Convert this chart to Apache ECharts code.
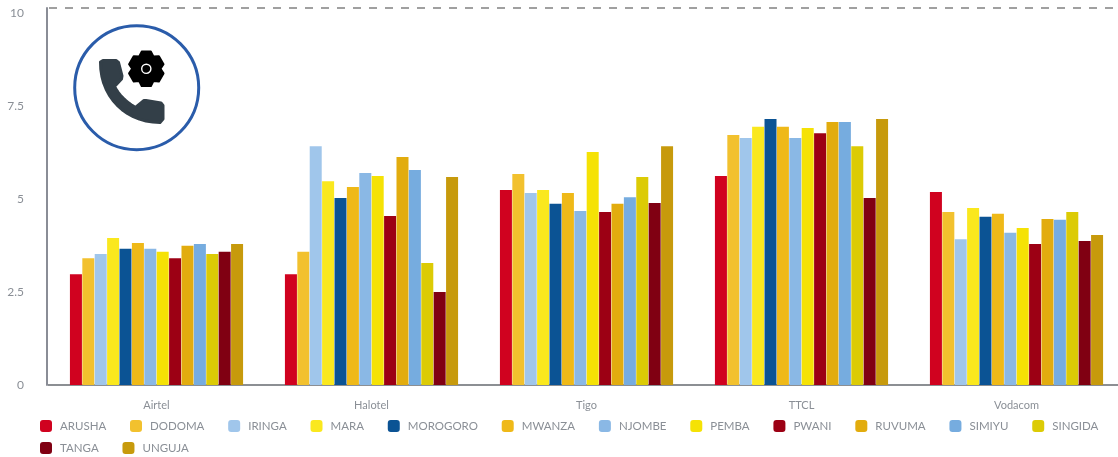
<!DOCTYPE html>
<html><head><meta charset="utf-8">
<style>html,body{margin:0;padding:0;background:#fff;overflow:hidden}#c{width:1118px;height:457px}</style>
<script src="https://cdn.jsdelivr.net/npm/echarts@6/dist/echarts.min.js"></script>
</head><body><div id="c"></div>
<script>
const operators = ['Airtel','Halotel','Tigo','TTCL','Vodacom'];
const ARUSHA   = [2.98,2.98,5.24,5.62,5.19];
const DODOMA   = [3.41,3.58,5.67,6.72,4.65];
const IRINGA   = [3.52,6.42,5.16,6.64,3.92];
const MARA     = [3.95,5.48,5.24,6.94,4.76];
const MOROGORO = [3.66,5.03,4.87,7.15,4.52];
const MWANZA   = [3.82,5.32,5.16,6.94,4.60];
const NJOMBE   = [3.66,5.70,4.68,6.64,4.09];
const PEMBA    = [3.58,5.62,6.26,6.91,4.22];
const PWANI    = [3.41,4.54,4.65,6.77,3.79];
const RUVUMA   = [3.74,6.13,4.87,7.07,4.46];
const SIMIYU   = [3.79,5.78,5.05,7.07,4.44];
const SINGIDA  = [3.52,3.28,5.59,6.42,4.65];
const TANGA    = [3.58,2.50,4.89,5.03,3.87];
const UNGUJA   = [3.79,5.59,6.42,7.15,4.03];
const regionNames = ['ARUSHA','DODOMA','IRINGA','MARA','MOROGORO','MWANZA','NJOMBE','PEMBA','PWANI','RUVUMA','SIMIYU','SINGIDA','TANGA','UNGUJA'];
const regionValues = [ARUSHA,DODOMA,IRINGA,MARA,MOROGORO,MWANZA,NJOMBE,PEMBA,PWANI,RUVUMA,SIMIYU,SINGIDA,TANGA,UNGUJA];
const regionColors = ['#d0021f','#f2c12e','#a0c6eb','#fae81e','#0b5394','#efb918','#8ab8e5','#f5e205','#9c0014','#e2ac0e','#76acdf','#dccb05','#800012','#c79a0c'];
const axisTop = 10.134;
const textColor = '#8a8f96';

function gearPoints(cx, cy, R, r) {
  const pts = [];
  for (let k = 0; k < 6; k++) {
    const a = (-90 + 60 * k) * Math.PI / 180, d = 15 * Math.PI / 180, m = 30 * Math.PI / 180;
    pts.push([cx + R * Math.cos(a - d), cy + R * Math.sin(a - d)]);
    pts.push([cx + R * Math.cos(a + d), cy + R * Math.sin(a + d)]);
    pts.push([cx + r * Math.cos(a + m), cy + r * Math.sin(a + m)]);
  }
  return pts;
}
function curve(p0, p1, p2, p3, n) {
  const out = [];
  for (let i = 0; i <= n; i++) {
    const t = i / n, u = 1 - t;
    out.push([
      u*u*u*p0[0] + 3*u*u*t*p1[0] + 3*u*t*t*p2[0] + t*t*t*p3[0],
      u*u*u*p0[1] + 3*u*u*t*p1[1] + 3*u*t*t*p2[1] + t*t*t*p3[1]
    ]);
  }
  return out;
}
const phoneIcon = [].concat(
  [[100.5,62],[103,60.5],[116,60.5],[118.5,62.5],[122,76],[121.5,79],[114.5,86.5]],
  curve([114.5,86.5],[119,95],[126,102],[135.5,107.5],8),
  [[144,100.5],[146,100.5],[161,103],[163,105.5],[163,119],[160,122.5]],
  curve([160,122.5],[126,122.5],[100,97],[100.5,62],14)
);
const legendBase = {
  left:40,width:1100,itemWidth:12,itemHeight:12,itemGap:23.8,padding:0,
  icon:'roundRect',
  textStyle:{color:textColor,fontSize:11.5,fontFamily:'Lato',padding:[0,0,0,3]}
};

const chart = echarts.init(document.getElementById('c'), null, {renderer:'canvas'});
chart.setOption({
  animation:false,
  textStyle:{fontFamily:'Lato'},
  grid:{left:49,width:1075,top:8,bottom:72,containLabel:false,outerBoundsMode:'none'},
  legend:[
    Object.assign({},legendBase,{top:420,data:regionNames.slice(0,12)}),
    Object.assign({},legendBase,{top:442,data:regionNames.slice(12)})
  ],
  xAxis:{
    type:'category',data:operators,
    axisLine:{lineStyle:{color:'#8c8f93',width:2,cap:'square'}},
    axisTick:{show:false},
    axisLabel:{color:textColor,fontSize:11,margin:15,fontFamily:'Lato'}
  },
  yAxis:{
    type:'value',min:0,max:axisTop,interval:2.5,offset:2,
    axisLine:{show:true,lineStyle:{color:'#8a8d96',width:2}},
    axisTick:{show:false},splitLine:{show:false},
    axisLabel:{color:textColor,fontSize:12,margin:23,fontFamily:'Lato',padding:[2,0,0,0],
      formatter:v=>v>10?'':String(v)}
  },
  series:regionNames.map((n,i)=>{
    const s={name:n,type:'bar',data:regionValues[i],barWidth:12,barGap:'3.3%',
      itemStyle:{color:regionColors[i]},emphasis:{disabled:true}};
    if(i===0){
      s.markLine={silent:true,symbol:'none',label:{show:false},
        lineStyle:{type:[8,8],color:'#a0a0a0',width:2},
        data:[{yAxis:axisTop}]};
    }
    return s;
  }),
  graphic:[
    {type:'circle',silent:true,shape:{cx:136.7,cy:87.7,r:62},
      style:{fill:'#fff',stroke:'#2a5caa',lineWidth:3}},
    {type:'polygon',silent:true,shape:{points:phoneIcon},
      style:{fill:'#333f48',stroke:'#333f48',lineWidth:3,lineJoin:'round'}},
    {type:'polygon',silent:true,shape:{points:gearPoints(146.3,68.8,17.8,14.2)},
      style:{fill:'#000',stroke:'#000',lineWidth:2,lineJoin:'round'}},
    {type:'circle',silent:true,shape:{cx:146.3,cy:68.8,r:4.6},
      style:{fill:'#000',stroke:'#fff',lineWidth:1.4}}
  ]
});
</script></body></html>
